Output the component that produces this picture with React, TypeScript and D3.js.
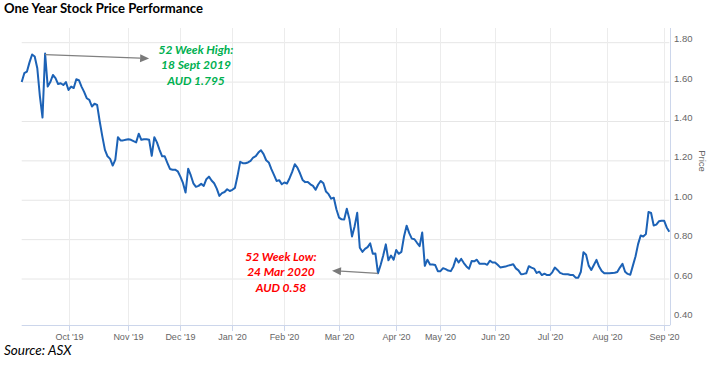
import React from "react";
import * as d3 from "d3";

// daily closes (trading days), one array per month
const sep19 = [1.6, 1.645, 1.653, 1.7, 1.74, 1.73, 1.67, 1.527, 1.42, 1.745, 1.577, 1.6, 1.636, 1.62, 1.59, 1.594, 1.585, 1.6];
const oct19 = [1.56, 1.577, 1.57, 1.614, 1.61, 1.577, 1.55, 1.518, 1.51, 1.476, 1.49, 1.484, 1.4, 1.324, 1.256, 1.223, 1.21, 1.176, 1.206, 1.32, 1.304, 1.304, 1.307];
const nov19 = [1.31, 1.307, 1.3, 1.294, 1.338, 1.307, 1.31, 1.31, 1.307, 1.226, 1.32, 1.294, 1.256, 1.223, 1.223, 1.19, 1.159, 1.155, 1.155, 1.147];
const dec19 = [1.12, 1.088, 1.039, 1.16, 1.127, 1.086, 1.068, 1.073, 1.083, 1.073, 1.107, 1.12, 1.1, 1.086, 1.059, 1.022, 1.036, 1.042, 1.056, 1.047];
const jan20 = [1.053, 1.063, 1.124, 1.195, 1.188, 1.188, 1.192, 1.2, 1.217, 1.224, 1.242, 1.254, 1.234, 1.203, 1.192, 1.158, 1.129, 1.098, 1.102, 1.081];
const feb20 = [1.09, 1.085, 1.112, 1.144, 1.183, 1.166, 1.137, 1.103, 1.092, 1.093, 1.081, 1.073, 1.053, 1.08, 1.098, 1.086, 1.044, 1.031, 1.008, 1.013, 0.954];
const mar20 = [0.912, 0.903, 0.902, 0.957, 0.905, 0.816, 0.867, 0.936, 0.759, 0.738, 0.753, 0.762, 0.781, 0.728, 0.729, 0.629, 0.671, 0.719, 0.776, 0.695, 0.719, 0.698];
const apr20 = [0.747, 0.728, 0.738, 0.816, 0.871, 0.833, 0.805, 0.802, 0.784, 0.767, 0.836, 0.667, 0.698, 0.674, 0.674, 0.671, 0.64];
const may20 = [0.64, 0.655, 0.65, 0.643, 0.64, 0.664, 0.705, 0.684, 0.702, 0.681, 0.664, 0.652, 0.691, 0.69, 0.698, 0.678, 0.678, 0.678, 0.672, 0.693, 0.684];
const jun20 = [0.684, 0.672, 0.659, 0.661, 0.663, 0.668, 0.671, 0.675, 0.654, 0.644, 0.624, 0.626, 0.629, 0.665, 0.658, 0.653, 0.631, 0.637, 0.62, 0.627, 0.62];
const jul20 = [0.62, 0.634, 0.658, 0.646, 0.631, 0.626, 0.624, 0.624, 0.62, 0.62, 0.607, 0.607, 0.637, 0.736, 0.723, 0.668, 0.646, 0.671, 0.697, 0.663, 0.641, 0.629];
const aug20 = [0.629, 0.629, 0.631, 0.632, 0.636, 0.658, 0.677, 0.637, 0.626, 0.622, 0.668, 0.714, 0.777, 0.821, 0.816, 0.828, 0.94, 0.935, 0.872, 0.876, 0.893, 0.896];
const sep20 = [0.896, 0.862, 0.84];

const monthly = [sep19, oct19, nov19, dec19, jan20, feb20, mar20, apr20, may20, jun20, jul20, aug20, sep20];
// label for the first trading day of each month after the first
const monthLabels = ["Oct '19", "Nov '19", "Dec '19", "Jan '20", "Feb '20", "Mar '20", "Apr '20", "May '20", "Jun '20", "Jul '20", "Aug '20", "Sep '20"];
const priceTicks = [0.4, 0.6, 0.8, 1.0, 1.2, 1.4, 1.6, 1.8];

const highText = ["52 Week High:", "18 Sept 2019", "AUD 1.795"];
const lowText = ["52 Week Low:", "24 Mar 2020", "AUD 0.58"];

const W = 720;
const H = 366;
const left = 21.7;
const right = 669.3;
const top = 28;
const bottom = 325;

const prices = monthly.flat();
const starts = d3.cumsum([0, ...monthly.map((m) => m.length)]);

const x = d3.scaleLinear().domain([0, prices.length - 1]).range([left, right]);
const y = d3.scaleLinear().domain([0.4, 1.8]).range([318.4, 42.7]);

const line = d3
  .line<number>()
  .x((d, i) => x(i))
  .y((d) => y(d));

const highIdx = starts[0] + (d3.maxIndex(sep19) as number);
const lowIdx = starts[6] + (d3.minIndex(mar20) as number);

const labelFont = "'Liberation Sans', Arial, sans-serif";
const noteFont = "Lato, 'Open Sans', sans-serif";

const Arrow = ({ x1, y1, x2, y2 }: { x1: number; y1: number; x2: number; y2: number }) => {
  const a = Math.atan2(y2 - y1, x2 - x1);
  const len = 9;
  const w = 4;
  const bx = x2 - len * Math.cos(a);
  const by = y2 - len * Math.sin(a);
  const p1 = [bx + w * Math.sin(a), by - w * Math.cos(a)];
  const p2 = [bx - w * Math.sin(a), by + w * Math.cos(a)];
  return (
    <g>
      <line x1={x1} y1={y1} x2={bx} y2={by} stroke="#808080" strokeWidth={1.2} />
      <polygon points={`${x2},${y2} ${p1[0]},${p1[1]} ${p2[0]},${p2[1]}`} fill="#7a7a7a" />
    </g>
  );
};

export default function App() {
  const hx = x(highIdx);
  const hy = y(prices[highIdx]);
  const lx = x(lowIdx);
  const ly = y(prices[lowIdx]);

  return (
    <svg
      width={W}
      height={H}
      style={{ position: "absolute", left: 0, top: 0, background: "#fff" }}
    >
      <text x={4} y={13} fontFamily={noteFont} fontWeight="bold" fontSize={13.1} fill="#000">
        One Year Stock Price Performance
      </text>

      {/* grid */}
      {priceTicks
        .filter((t) => t > 0.4)
        .map((t) => (
          <line key={t} x1={left} x2={right} y1={y(t)} y2={y(t)} stroke="#e6e6e6" strokeWidth={1} />
        ))}
      {monthLabels.map((m, i) => {
        const xx = Math.round(x(starts[i + 1])) + 0.5;
        return (
          <g key={m}>
            <line x1={xx} x2={xx} y1={top} y2={bottom} stroke="#ececec" strokeWidth={1} />
            <line x1={xx} x2={xx} y1={bottom} y2={bottom + 6} stroke="#ccd6eb" strokeWidth={1} />
            <text
              x={xx}
              y={340}
              textAnchor="middle"
              fontFamily={labelFont}
              fontSize={9}
              fill="#666"
            >
              {m}
            </text>
          </g>
        );
      })}

      {/* axes */}
      <line x1={left} x2={right + 1} y1={bottom + 0.5} y2={bottom + 0.5} stroke="#ccd6eb" strokeWidth={1} />
      <line x1={670.5} x2={670.5} y1={top} y2={bottom} stroke="#ccd6eb" strokeWidth={1} />
      {priceTicks.map((t) => (
        <text key={t} x={674} y={y(t) - 0.5} fontFamily={labelFont} fontSize={9.5} fill="#666">
          {d3.format(".2f")(t)}
        </text>
      ))}
      <text
        transform={`translate(699, 161) rotate(90)`}
        textAnchor="middle"
        fontFamily={labelFont}
        fontSize={9.5}
        fill="#666"
      >
        Price
      </text>

      {/* series */}
      <path d={line(prices) || ""} fill="none" stroke="#1c62b6" strokeWidth={2} strokeLinejoin="round" />

      {/* annotations */}
      <Arrow x1={hx} y1={hy + 1} x2={hx + 104} y2={hy + 5} />
      {highText.map((t, i) => (
        <text
          key={t}
          x={196}
          y={53.5 + i * 15.5}
          textAnchor="middle"
          fontFamily={noteFont}
          fontWeight="bold"
          fontStyle="italic"
          fontSize={12}
          fill="#00b050"
        >
          {t}
        </text>
      ))}
      <Arrow x1={lx} y1={ly} x2={lx - 46} y2={ly - 2.6} />
      {lowText.map((t, i) => (
        <text
          key={t}
          x={281}
          y={260.5 + i * 15.5}
          textAnchor="middle"
          fontFamily={noteFont}
          fontWeight="bold"
          fontStyle="italic"
          fontSize={12}
          fill="#ff0000"
        >
          {t}
        </text>
      ))}

      <text x={4} y={355} fontFamily={noteFont} fontStyle="italic" fontSize={13.5} fill="#000">
        Source: ASX
      </text>
    </svg>
  );
}
